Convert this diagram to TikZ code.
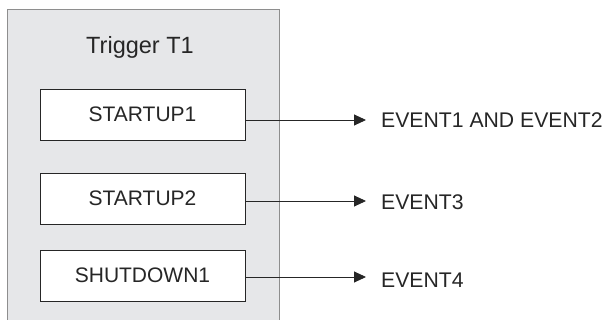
\documentclass[tikz,border=0pt]{standalone}
\usepackage{fontspec}
\setmainfont{Liberation Sans}
\usetikzlibrary{arrows.meta}
\definecolor{panelgray}{HTML}{E6E7E9}
\definecolor{panelline}{HTML}{8E8E8E}
\definecolor{inkgray}{HTML}{262626}
\begin{document}
\begin{tikzpicture}[x=1pt,y=-1pt,
		trigbox/.style={draw=inkgray, fill=white, line width=.9pt, minimum width=205pt, minimum height=51pt, inner sep=0pt, font=\fontsize{21}{25}\selectfont, text=inkgray},
		evlabel/.style={anchor=west, inner sep=0pt, font=\fontsize{21.2}{25}\selectfont, text=inkgray},
		flow/.style={-{Triangle[length=12pt,width=11pt]}, draw=inkgray, line width=.9pt}]
				\useasboundingbox (0,0) rectangle (604,320);
				\draw[draw=panelline, fill=panelgray, line width=1pt] (7,10) rectangle (279,330);
				\node[font=\fontsize{23.5}{28}\selectfont, text=inkgray] (title) at (140,47) {Trigger T1};
				\node[trigbox] (startup1) at (142.5,114.5) {STARTUP1};
				\node[trigbox] (startup2) at (142.5,198.5) {STARTUP2};
				\node[trigbox] (shutdown1) at (142.5,275.5) {SHUTDOWN1};
				\node[evlabel] (ev1) at (381,120) {EVENT1 AND EVENT2};
				\node[evlabel] (ev2) at (381,202) {EVENT3};
				\node[evlabel] (ev3) at (381,280) {EVENT4};
				\coordinate (tip1) at (366,120);
				\coordinate (tip2) at (366,201);
				\coordinate (tip3) at (366,277);
				\draw[flow] (startup1.east |- tip1) -- (tip1);
				\draw[flow] (startup2.east |- tip2) -- (tip2);
				\draw[flow] (shutdown1.east |- tip3) -- (tip3);
			\end{tikzpicture}
\end{document}
